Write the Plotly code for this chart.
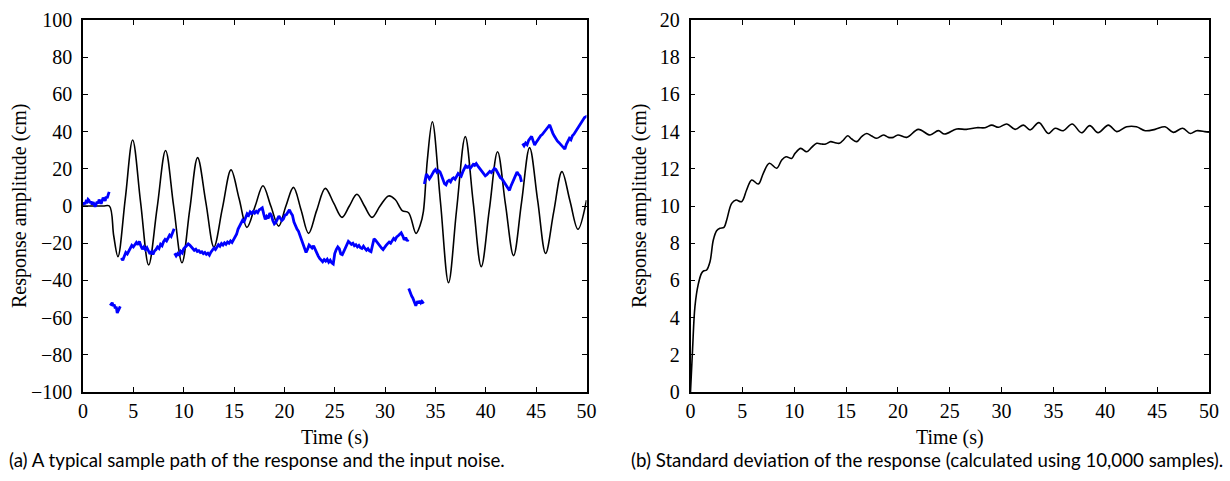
import plotly.graph_objects as go

# ---------------- data: left panel ----------------
# black: sample path of the response (cm) vs time (s)
resp_t = [0, 1.0, 2.0, 2.62, 3.05, 3.47, 4.2, 4.93, 5.72, 6.52, 7.36, 8.2, 9.0, 9.83,
          10.6, 11.38, 12.2, 13.0, 13.85, 14.7, 15.5, 16.28, 17.1, 17.87, 18.65, 19.43,
          20.15, 20.9, 21.65, 22.4, 23.2, 24.06, 24.9, 25.72, 26.45, 27.2, 27.95, 28.7,
          29.5, 30.35, 31.0, 31.7, 32.33, 33.07, 33.5, 33.8, 34.2, 34.69, 35.5, 36.3,
          37.1, 37.96, 38.75, 39.55, 40.35, 41.17, 41.95, 42.76, 43.55, 44.35, 45.15,
          45.94, 46.75, 47.56, 48.35, 49.15, 50.0]
resp_y = [0, 0, 0, 0, -16, -27.2, 4, 35.5, 2, -31.7, -1, 29.8, 0, -30.5,
          -2, 26, 2, -22, -1, 19.4, 4, -11.5, 0, 10.9, 0, -10.8,
          0, 10, -2, -14.7, -2.5, 9.5, 1.5, -6.1, 0, 6.3, 0, -6.1,
          0, 5.4, 3.5, -2.5, -3.6, -14.7, -10, -3, 25, 45.3, 2, -41.2,
          -2, 37.3, 2, -32.6, -2, 29.2, 1, -26.7, 2, 31.4, 3,
          -25.5, -3, 18.5, 3, -12.5, 3.2]

# blue: input noise, read in pieces (the path jumps between pieces)
noise_t1 = [0.0, 0.1, 0.2, 0.3, 0.4, 0.5, 0.6, 0.7, 0.8, 0.9, 1.0, 1.1, 1.2, 1.3, 1.4,
            1.5, 1.6, 1.7, 1.8, 1.9, 2.0, 2.1, 2.2, 2.3, 2.4, 2.5, 2.6]
noise_y1 = [0.5, 1.8, 1.0, 2.5, 2.2, 3.6, 3.0, 1.6, 2.4, 0.8, 2.0, 1.2, -0.4, 1.0, 2.2,
            1.4, 3.4, 2.6, 1.2, 2.8, 4.4, 3.6, 2.8, 5.0, 4.2, 6.0, 7.6]

noise_t2 = [2.70, 2.80, 2.90, 3.00, 3.10, 3.20, 3.30, 3.40, 3.50, 3.60, 3.70]
noise_y2 = [-53.5, -52.5, -52.0, -53.8, -53.0, -55.0, -54.2, -57.5, -56.0, -54.5, -54.0]

noise_t3 = [3.80, 3.95, 4.10, 4.25, 4.40, 4.55, 4.70, 4.85, 5.00, 5.15, 5.30, 5.45, 5.60,
            5.75, 5.90, 6.05, 6.20, 6.35, 6.50, 6.65, 6.80, 6.95, 7.10, 7.25, 7.40, 7.55,
            7.70, 7.85, 8.00, 8.15, 8.30, 8.45, 8.60, 8.75, 8.90, 9.05]
noise_y3 = [-28.0, -29.2, -27.0, -25.0, -25.8, -24.0, -22.5, -21.2, -22.0, -20.4, -19.6,
            -20.8, -19.0, -21.5, -23.2, -22.0, -23.5, -22.4, -24.2, -25.8, -24.6, -26.0,
            -24.2, -23.4, -22.0, -22.8, -20.6, -21.4, -19.2, -18.0, -18.8, -16.8, -15.6,
            -16.4, -13.8, -12.2]

noise_t4 = [9.10, 9.25, 9.40, 9.55, 9.70, 9.85, 10.00, 10.15, 10.30, 10.45, 10.60, 10.75,
            10.90, 11.05, 11.20, 11.35, 11.50, 11.65, 11.80, 11.95, 12.10, 12.25, 12.40,
            12.55, 12.70, 12.85, 13.00, 13.15, 13.30, 13.45, 13.60, 13.75, 13.90, 14.05,
            14.20, 14.35, 14.50, 14.65, 14.80, 14.95, 15.10, 15.25, 15.40, 15.55, 15.70,
            15.85, 16.00, 16.15, 16.30, 16.45, 16.60, 16.75, 16.90, 17.05, 17.20, 17.35,
            17.50, 17.65, 17.80, 17.95, 18.10, 18.25, 18.40, 18.55, 18.70, 18.85, 19.00,
            19.15, 19.30, 19.45, 19.60, 19.75, 19.90, 20.05, 20.20, 20.35, 20.50, 20.65,
            20.80, 20.95, 21.10, 21.25, 21.40, 21.55, 21.70, 21.85, 22.00, 22.15, 22.30,
            22.45, 22.60, 22.75, 22.90, 23.05, 23.20, 23.35, 23.50, 23.65, 23.80, 23.95,
            24.10, 24.25, 24.40, 24.55, 24.70, 24.85, 25.00, 25.15, 25.30, 25.45, 25.60,
            25.75, 25.90, 26.05, 26.20, 26.35, 26.50, 26.65, 26.80, 26.95, 27.10, 27.25,
            27.40, 27.55, 27.70, 27.85, 28.00, 28.15, 28.30, 28.45, 28.60, 28.75, 28.90,
            29.05, 29.20, 29.35, 29.50, 29.65, 29.80, 29.95, 30.10, 30.25, 30.40, 30.55,
            30.70, 30.85, 31.00, 31.15, 31.30, 31.45, 31.60, 31.75, 31.90, 32.05, 32.20,
            32.30]
noise_y4 = [-25.4, -26.8, -25.6, -26.6, -24.4, -25.2, -23.0, -22.2, -21.6, -20.4, -21.0,
            -21.8, -22.6, -23.8, -23.2, -24.4, -24.0, -25.0, -24.6, -25.6, -25.0, -26.0,
            -25.4, -26.4, -24.8, -23.6, -22.6, -23.4, -21.8, -20.8, -21.6, -20.2, -21.0,
            -19.8, -20.6, -19.4, -20.0, -18.8, -19.6, -18.2, -17.0, -15.2, -12.4, -10.6,
            -9.2, -7.6, -8.4, -5.6, -4.2, -5.0, -3.2, -4.0, -3.0, -3.8, -2.8, -3.6, -2.0,
            -1.6, -1.0, -4.4, -7.2, -5.6, -6.6, -3.8, -5.0, -7.8, -9.6, -8.8, -7.2, -5.4,
            -6.6, -7.8, -7.0, -5.0, -4.6, -3.0, -2.0, -3.8, -5.0, -8.6, -11.0, -12.4,
            -13.6, -15.8, -17.6, -20.2, -22.6, -25.0, -23.2, -21.0, -21.8, -22.6, -21.4,
            -23.4, -25.0, -26.8, -28.2, -29.4, -30.0, -28.8, -29.6, -28.6, -30.2, -29.2,
            -30.6, -31.2, -25.6, -23.4, -22.0, -23.0, -25.8, -26.2, -24.2, -23.0, -20.6,
            -19.0, -19.8, -20.6, -20.0, -21.4, -20.8, -22.0, -21.2, -22.4, -22.8, -21.6,
            -22.8, -23.8, -23.0, -24.2, -24.6, -20.4, -17.6, -18.4, -19.6, -20.2, -21.4,
            -22.6, -23.4, -22.0, -21.2, -20.2, -19.4, -20.0, -18.6, -17.4, -18.2, -16.6,
            -16.0, -15.4, -14.4, -16.0, -18.2, -17.0, -18.8, -18.0]

noise_t5 = [32.35, 32.45, 32.55, 32.65, 32.75, 32.85, 32.95, 33.05, 33.15, 33.25, 33.35,
            33.45, 33.55, 33.65, 33.75, 33.85]
noise_y5 = [-44.3, -46.0, -47.2, -48.6, -49.4, -51.0, -52.2, -53.6, -52.0, -51.2, -52.4,
            -51.0, -52.0, -51.2, -51.8, -51.4]

noise_t6 = [33.90, 34.00, 34.10, 34.25, 34.40, 34.55, 34.70, 34.85, 35.00, 35.15, 35.30,
            35.45, 35.60, 35.75, 35.90, 36.05, 36.20, 36.35, 36.50, 36.65, 36.80, 36.95,
            37.10, 37.25, 37.40, 37.55, 37.70, 37.85, 38.00, 38.15, 38.30, 38.45, 38.60,
            38.75, 38.90, 39.05, 39.20, 39.35, 39.50, 39.65, 39.80, 39.95, 40.10, 40.25,
            40.40, 40.55, 40.70, 40.85, 41.00, 41.15, 41.30, 41.45, 41.60, 41.75, 41.90,
            42.05, 42.20, 42.35, 42.50, 42.65, 42.80, 42.95, 43.10, 43.25, 43.40, 43.55]
noise_y6 = [11.8, 15.4, 17.2, 16.0, 14.6, 15.8, 17.6, 18.8, 19.6, 18.2, 19.0, 18.4, 16.4,
            14.2, 12.0, 11.4, 13.2, 13.8, 13.0, 14.6, 15.2, 14.4, 16.2, 17.4, 16.6, 16.0,
            18.2, 20.4, 21.6, 20.8, 21.4, 20.2, 21.6, 22.4, 21.8, 22.8, 21.6, 20.6, 19.4,
            18.6, 17.2, 16.2, 16.8, 17.8, 18.6, 18.0, 19.2, 20.2, 19.6, 18.0, 16.8, 15.2,
            14.6, 13.4, 12.2, 11.4, 9.6, 8.4, 10.8, 12.6, 14.4, 16.6, 18.2, 17.0, 16.2, 13.0]

noise_t7 = [43.65, 43.80, 43.95, 44.10, 44.25, 44.40, 44.55, 44.70, 44.85, 45.00, 45.15,
            45.30, 45.45, 45.60, 45.75, 45.90, 46.05, 46.20, 46.35, 46.50, 46.65, 46.80,
            46.95, 47.10, 47.25, 47.40, 47.55, 47.70, 47.85, 48.00, 48.15, 48.30, 48.45,
            48.60, 48.75, 48.90, 49.05, 49.20, 49.35, 49.50, 49.65, 49.80, 49.95, 50.00]
noise_y7 = [33.6, 32.4, 33.8, 33.0, 35.2, 36.6, 37.4, 35.0, 32.8, 34.2, 35.6, 36.4, 37.8,
            38.4, 39.6, 40.2, 41.4, 42.6, 43.6, 40.8, 39.2, 37.6, 36.0, 35.0, 34.2, 33.4,
            32.6, 31.8, 30.6, 33.2, 35.0, 36.4, 35.6, 37.8, 38.6, 40.0, 41.2, 42.6, 43.8,
            44.8, 46.2, 47.6, 48.0, 47.4]

# ---------------- data: right panel ----------------
std_t = [0, 0.2, 0.43, 0.75, 1.08, 1.3, 1.56, 1.88, 2.2, 2.52, 2.84, 3.23, 3.49, 3.97,
         4.39, 4.93, 5.41, 5.9, 6.54, 7.02, 7.6, 8.31, 8.8, 9.21, 9.76, 10.08, 10.63,
         11.2, 11.68, 12.17, 12.65, 13.04, 13.52, 13.94, 14.36, 14.75, 15.16, 15.55,
         16.03, 16.5, 16.99, 17.47, 17.96, 18.6, 19.08, 19.56, 20.0, 20.85, 21.97, 23.1,
         23.9, 24.5, 25.67, 26.6, 27.6, 28.4, 29.05, 29.7, 30.5, 31.3, 32.1, 32.75, 33.6,
         34.5, 35.15, 35.95, 36.8, 37.7, 38.5, 39.3, 40.3, 41.1, 42.06, 43.0, 43.85, 44.8,
         45.76, 46.56, 47.46, 48.2, 48.8, 49.6, 50]
std_y = [0, 2.3, 4.6, 5.8, 6.4, 6.52, 6.56, 7.0, 8.17, 8.67, 8.8, 8.85, 9.25, 10.14,
         10.32, 10.23, 10.86, 11.4, 11.18, 11.76, 12.3, 12.03, 12.47, 12.65, 12.56, 12.83,
         13.1, 12.92, 13.15, 13.37, 13.33, 13.33, 13.46, 13.4, 13.37, 13.55, 13.78, 13.6,
         13.46, 13.73, 13.9, 13.76, 13.64, 13.82, 13.69, 13.69, 13.82, 13.69, 14.12, 13.82,
         14.05, 13.87, 14.14, 14.12, 14.21, 14.21, 14.35, 14.23, 14.41, 14.12, 14.35, 14.09,
         14.48, 13.9, 14.18, 14.05, 14.41, 13.94, 14.32, 13.94, 14.35, 14.0, 14.26, 14.26,
         14.05, 14.12, 14.26, 13.96, 14.18, 13.9, 14.05, 14.0, 13.96]

x_ticks = [0, 5, 10, 15, 20, 25, 30, 35, 40, 45, 50]
left_y_ticks = [-100, -80, -60, -40, -20, 0, 20, 40, 60, 80, 100]
right_y_ticks = [0, 2, 4, 6, 8, 10, 12, 14, 16, 18, 20]

x_title = "Time (s)"
y_title = "Response amplitude (cm)"
caption_a = "(a) A typical sample path of the response and the input noise."
caption_b = "(b) Standard deviation of the response (calculated using 10,000 samples)."

# ---------------- figure ----------------
W, H = 1230, 481
def px_x(p):
    return p / W
def px_y(p):
    return 1 - p / H

fig = go.Figure()

noise_t, noise_y = [], []
for ts, ys in [(noise_t1, noise_y1), (noise_t2, noise_y2), (noise_t3, noise_y3),
               (noise_t4, noise_y4), (noise_t5, noise_y5), (noise_t6, noise_y6),
               (noise_t7, noise_y7)]:
    noise_t += ts + [None]
    noise_y += ys + [None]

fig.add_trace(go.Scatter(x=resp_t, y=resp_y, mode="lines",
                         line=dict(color="black", width=1.6, shape="spline", smoothing=1.0),
                         xaxis="x", yaxis="y", showlegend=False, hoverinfo="skip"))
fig.add_trace(go.Scatter(x=noise_t, y=noise_y, mode="lines", connectgaps=False,
                         line=dict(color="#0000ff", width=2.8),
                         xaxis="x", yaxis="y", showlegend=False, hoverinfo="skip"))
fig.add_trace(go.Scatter(x=std_t, y=std_y, mode="lines",
                         line=dict(color="black", width=1.6, shape="spline", smoothing=1.0),
                         xaxis="x2", yaxis="y2", showlegend=False, hoverinfo="skip"))

tick_font = dict(family="Liberation Serif, Times New Roman, serif", size=20, color="black")
axis_common = dict(showline=True, linecolor="black", linewidth=1.6, mirror="ticks",
                   ticks="inside", ticklen=5, tickwidth=1, tickcolor="black",
                   showgrid=False, zeroline=False, tickfont=tick_font, fixedrange=True,
                   automargin=False)

yd = [px_y(392), px_y(20)]
fig.update_layout(
    width=W, height=H,
    margin=dict(l=0, r=0, t=0, b=0, autoexpand=False),
    paper_bgcolor="white", plot_bgcolor="white",
    xaxis=dict(domain=[px_x(83), px_x(586.5)], range=[0, 50], tickvals=x_ticks,
               anchor="y", **axis_common),
    yaxis=dict(domain=yd, range=[-100, 100], tickvals=left_y_ticks, anchor="x",
               ticklabelstandoff=5, **axis_common),
    xaxis2=dict(domain=[px_x(690.5), px_x(1209)], range=[0, 50], tickvals=x_ticks,
                anchor="y2", **axis_common),
    yaxis2=dict(domain=yd, range=[0, 20], tickvals=right_y_ticks, anchor="x2",
                ticklabelstandoff=5, **axis_common),
)

title_font = dict(family="Liberation Serif, Times New Roman, serif", size=20, color="black")
cap_font = dict(family="Lato, Noto Sans, sans-serif", size=18.7, color="black")
ann = [
    dict(text=x_title, x=px_x(335), y=px_y(437), font=title_font),
    dict(text=x_title, x=px_x(950), y=px_y(437), font=title_font),
    dict(text=y_title, x=px_x(19), y=px_y(206), font=title_font, textangle=-90),
    dict(text=y_title, x=px_x(639), y=px_y(206), font=title_font, textangle=-90),
]
for a in ann:
    a.update(xref="paper", yref="paper", showarrow=False, xanchor="center", yanchor="middle")
fig.add_annotation(text=caption_a, x=px_x(7), y=px_y(460), xref="paper", yref="paper",
                   showarrow=False, xanchor="left", yanchor="middle", font=cap_font)
fig.add_annotation(text=caption_b, x=px_x(1225), y=px_y(460), xref="paper", yref="paper",
                   showarrow=False, xanchor="right", yanchor="middle", font=cap_font)
for a in ann:
    fig.add_annotation(**a)

fig.write_html("out.html", config={"displayModeBar": False},
               post_script="document.body.style.margin='0';"
                           "document.body.style.overflow='hidden';")
